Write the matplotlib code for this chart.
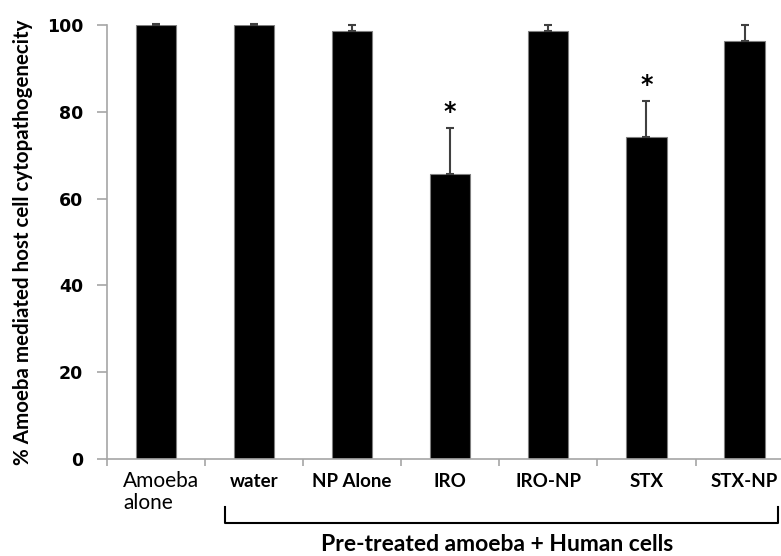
import matplotlib.pyplot as plt
import matplotlib.transforms as mtransforms
import numpy as np

# values
categories = ["Amoeba\nalone", "water", "NP Alone", "IRO", "IRO-NP", "STX", "STX-NP"]
cytopathogenicity = [100.0, 100.0, 98.6, 65.6, 98.6, 74.1, 96.3]
error_upper = [0.15, 0.15, 1.4, 10.6, 1.4, 8.3, 3.7]
significant = [False, False, False, True, False, True, False]
group_label = "Pre-treated amoeba + Human cells"
y_ticks = [0, 20, 40, 60, 80, 100]

spine_grey = "#a6a6a6"

fig = plt.figure(figsize=(7.81, 5.56), dpi=100)
# axes runs past the right edge, as in the cropped original
ax = fig.add_axes([0.1366, 0.1739, 0.8796, 0.7817])

x = np.arange(len(categories))
ax.bar(x, cytopathogenicity, width=0.41, color="black",
       edgecolor="#7f7f7f", linewidth=0.8, zorder=2)
ax.errorbar(x, cytopathogenicity,
            yerr=[np.zeros(len(x)), error_upper],
            fmt="none", ecolor="#404040", elinewidth=1.5,
            capsize=3.2, capthick=1.5, clip_on=False, zorder=3)

for xi, val, err, sig in zip(x, cytopathogenicity, error_upper, significant):
    if sig:
        ax.text(xi, val + err + 3.8, "*", ha="center", va="center",
                fontsize=17, fontweight="bold", family="DejaVu Sans")

ax.set_xlim(-0.5, len(categories) - 0.5)
ax.set_ylim(0, 100)
ax.set_yticks(y_ticks)
ax.set_yticklabels([str(t) for t in y_ticks], fontsize=12.5,
                   fontweight="bold", family="DejaVu Sans")
ax.tick_params(axis="y", direction="out", length=7, width=1.2,
               color=spine_grey, pad=10)

# ticks between categories, labels drawn as text
ax.set_xticks(np.arange(len(categories) + 1) - 0.5)
ax.set_xticklabels([])
ax.tick_params(axis="x", direction="out", length=5, width=1.2,
               color=spine_grey)

trans = mtransforms.blended_transform_factory(ax.transData, ax.transAxes)
for i, lab in enumerate(categories):
    if i == 0:
        ax.text(i - 0.334, -0.027, lab, transform=trans, ha="left", va="top",
                fontsize=15, family="Lato", linespacing=1.15)
    else:
        ax.text(i, -0.05, lab, transform=trans, ha="center", va="center",
                fontsize=13.5, fontweight="bold", family="Lato")

# bracket under the pre-treated groups
ax.plot([0.705, 0.705, 6.34, 6.34], [-0.109, -0.147, -0.147, -0.109],
        transform=trans, color="black", linewidth=1.5, clip_on=False)
ax.text(3.477, -0.197, group_label, transform=trans, ha="center",
        va="center", fontsize=16.5, fontweight="bold", family="Lato")

ax.set_ylabel("% Amoeba mediated host cell cytopathogenecity", fontsize=14.8,
              fontweight="bold", family="Lato", labelpad=10)

for side in ["top", "right"]:
    ax.spines[side].set_visible(False)
for side in ["left", "bottom"]:
    ax.spines[side].set_color(spine_grey)
    ax.spines[side].set_linewidth(1.2)

fig.savefig("out.png", dpi=100)
